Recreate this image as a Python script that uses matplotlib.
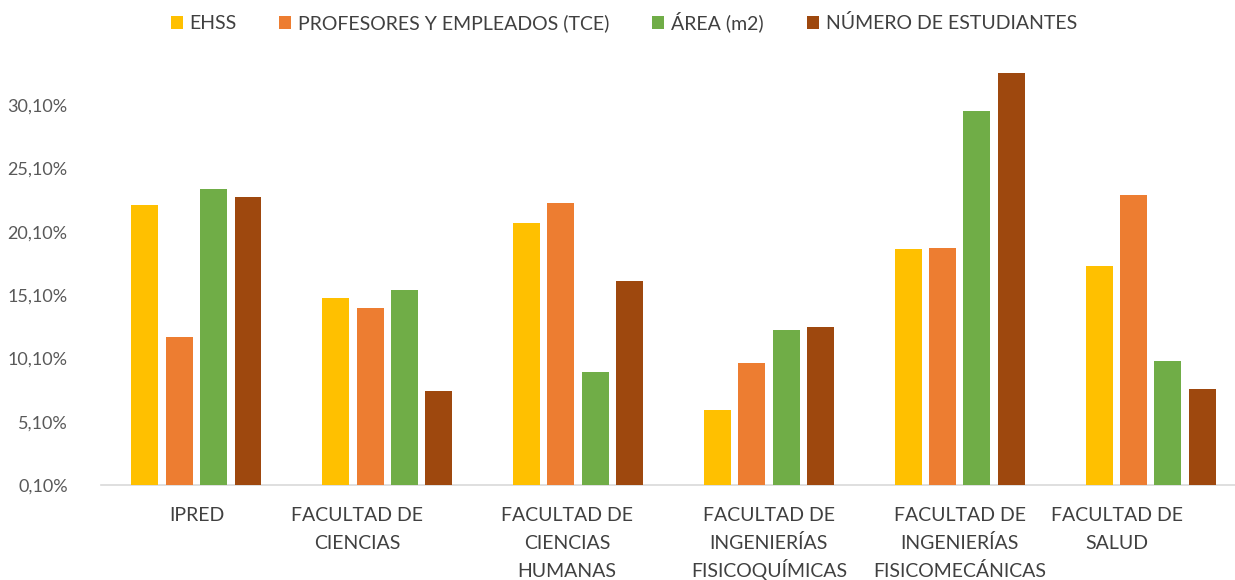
import matplotlib
matplotlib.use("Agg")
import matplotlib.pyplot as plt
import numpy as np

# Datos
categorias = [
    "IPRED",
    "FACULTAD DE\nCIENCIAS",
    "FACULTAD DE\nCIENCIAS\nHUMANAS",
    "FACULTAD DE\nINGENIERÍAS\nFISICOQUÍMICAS",
    "FACULTAD DE\nINGENIERÍAS\nFISICOMECÁNICAS",
    "FACULTAD DE\nSALUD",
]
series = ["EHSS", "PROFESORES Y EMPLEADOS (TCE)", "ÁREA (m2)", "NÚMERO DE ESTUDIANTES"]
ehss = [22.2, 14.9, 20.8, 6.0, 18.7, 17.4]
profesores = [11.8, 14.1, 22.4, 9.7, 18.8, 23.0]
area = [23.5, 15.5, 9.0, 12.3, 29.6, 9.9]
estudiantes = [22.8, 7.5, 16.2, 12.6, 32.6, 7.7]
yticks = [0.1, 5.1, 10.1, 15.1, 20.1, 25.1, 30.1]

# Estilo
COLORES = ["#FFC000", "#ED7D31", "#70AD47", "#9E480E"]
C_TXT = "#595959"
C_CAT = "#404040"
C_AXIS = "#D9D9D9"
LABEL_SHIFT_PX = [0, -30, -11, 0, 0, -34]
PT = 0.72  # px -> pt a 100 dpi

plt.rcParams["font.family"] = ["Lato", "DejaVu Sans"]

fig = plt.figure(figsize=(12.35, 5.8), dpi=100, facecolor="white")
ax = fig.add_axes([0.0818, 0.1638, 0.9271, 0.7643])

x = np.arange(len(categorias))
step, width = 0.18, 0.141
for j, (nombre, vals) in enumerate(zip(series, [ehss, profesores, area, estudiantes])):
    ax.bar(x + (j - 1.5) * step, vals, width=width, color=COLORES[j],
           label=nombre, zorder=3)

ax.set_xlim(-0.5, len(categorias) - 0.5)
ax.set_ylim(0.1, 35.1)
ax.set_yticks(yticks)
ax.set_yticklabels([f"{v:.2f}%".replace(".", ",") for v in yticks])
ax.set_xticks(x)
ax.set_xticklabels([])

for spine in ["top", "right", "left"]:
    ax.spines[spine].set_visible(False)
ax.spines["bottom"].set_color(C_AXIS)
ax.spines["bottom"].set_linewidth(1.2)

ax.tick_params(axis="y", length=0, pad=24, labelsize=13, labelcolor=C_TXT)
ax.tick_params(axis="x", length=0)

# Etiquetas de categoría: una línea por texto para un interlineado uniforme
for xi, cat, dx in zip(x, categorias, LABEL_SHIFT_PX):
    for k, linea in enumerate(cat.split("\n")):
        ax.annotate(linea, xy=(xi, 0), xycoords=("data", "axes fraction"),
                    xytext=(dx * PT, -(36 + 28 * k) * PT),
                    textcoords="offset points", ha="center", va="baseline",
                    fontsize=14, color=C_CAT, annotation_clip=False)

leg = fig.legend(loc="center", bbox_to_anchor=(0.505, 0.962), ncol=4,
                 frameon=False, fontsize=14, handlelength=0.62,
                 handleheight=0.62, handletextpad=0.35, columnspacing=2.2)
for t in leg.get_texts():
    t.set_color(C_CAT)

fig.savefig("out.png", dpi=100, facecolor="white")
